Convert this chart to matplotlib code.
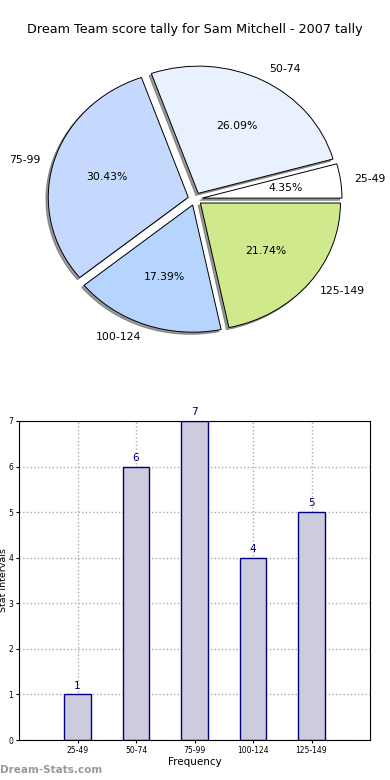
import matplotlib
matplotlib.use('Agg')
import matplotlib.pyplot as plt

# score intervals and how many rounds fell in each
intervals = ['25-49', '50-74', '75-99', '100-124', '125-149']
counts = [1, 6, 7, 4, 5]
slice_colors = ['#ffffff', '#e9f1ff', '#c5d9ff', '#b5d5ff', '#cfe98c']

fig = plt.figure(figsize=(3.9, 7.8), dpi=100)
fig.text(0.5, 1 - 30 / 780, 'Dream Team score tally for Sam Mitchell - 2007 tally',
         ha='center', va='center', fontsize=9.2)

# pie chart (slightly squashed, like the old default without equal aspect)
ax1 = fig.add_axes([20 / 390, 1 - 358 / 780, 350 / 390, 318 / 780])
ax1.pie(counts, labels=intervals, colors=slice_colors, explode=[0.05] * 5,
        autopct='%1.2f%%', shadow={'ox': -0.012, 'oy': -0.012, 'color': '#555555', 'alpha': 0.6},
        startangle=0,
        wedgeprops={'edgecolor': 'black', 'linewidth': 0.7},
        textprops={'fontsize': 7.8})
ax1.set_aspect('auto')
ax1.set_xlim(-1.25, 1.25)
ax1.set_ylim(-1.25, 1.25)

# bar chart
ax2 = fig.add_axes([19 / 390, 40 / 780, 351 / 390, 319 / 780])
pos = range(1, len(intervals) + 1)
ax2.bar(pos, counts, width=0.45, color='#ccccdd', edgecolor='navy', linewidth=1, zorder=2)
for p, c in zip(pos, counts):
    ax2.text(p, c + 0.08, str(c), ha='center', va='bottom', color='navy', fontsize=7.5)
ax2.set_xlim(0, 6)
ax2.set_ylim(0, 7)
ax2.set_xticks(list(pos))
ax2.set_xticklabels(intervals)
ax2.tick_params(labelsize=5.5, length=2, pad=2)
ax2.grid(True, linestyle=':', color='#aaaaaa', linewidth=1, zorder=0)
ax2.set_xlabel('Frequency', fontsize=7.5, labelpad=2)
ax2.set_ylabel('Stat Intervals', fontsize=6.8)
ax2.yaxis.set_label_coords(-10.5 / 351, 0.5)

fig.text(0.0, 1 - 770 / 780, 'Dream-Stats.com', color='#999999', fontsize=7.5,
         fontweight='bold', ha='left', va='center')

plt.savefig('out.png', dpi=100)
